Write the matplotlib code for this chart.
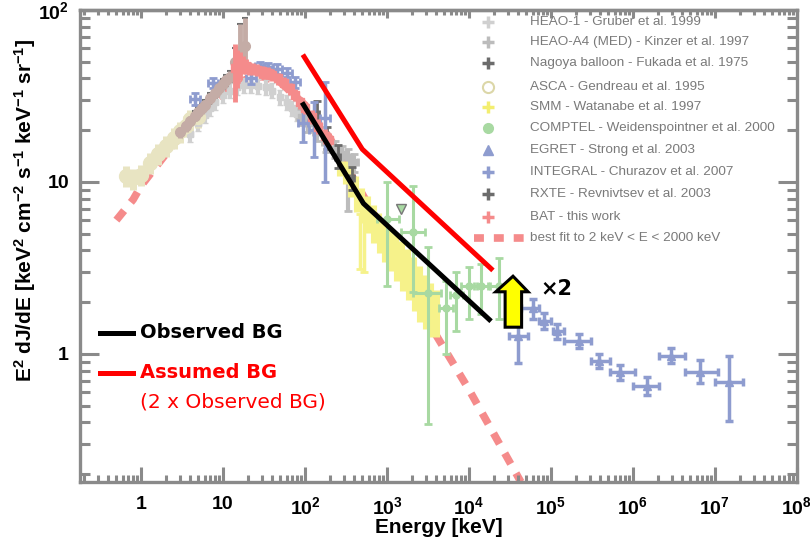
import numpy as np
import matplotlib
matplotlib.use("Agg")
import matplotlib.pyplot as plt
from matplotlib.patches import Polygon
from matplotlib.ticker import FixedLocator, FuncFormatter, LogLocator, NullFormatter

plt.rcParams['font.family'] = ['Liberation Sans', 'DejaVu Sans']
plt.rcParams['mathtext.fontset'] = 'custom'
plt.rcParams['mathtext.rm'] = 'Liberation Sans:bold'
plt.rcParams['mathtext.it'] = 'Liberation Sans:bold'
plt.rcParams['mathtext.bf'] = 'Liberation Sans:bold'

# ---- data ----
# ASCA
asca_x = [0.65, 0.8, 1.0, 1.3, 1.6, 2.0, 2.5, 3.0, 3.5, 4.0, 5.0]
asca_y = [10.8, 10.5, 11.0, 12.9, 14.5, 16.2, 18.0, 19.7, 21.2, 23.1, 24.0]

# RXTE
rxte_x = [3, 3.5, 4, 4.5, 5, 5.5, 6, 7, 8, 9, 10, 11, 12, 14, 16, 18.5]
rxte_y = [19.4, 21.1, 22.7, 24.2, 25.6, 26.9, 28.1, 30.6, 32.9, 35.1, 37.1, 39.0, 41.0, 50, 58, 62]
rxte_lo = [1.5, 1.5, 1.6, 1.7, 1.8, 1.9, 2.0, 2.1, 2.3, 2.5, 2.6, 2.7, 2.9, 8, 12, 15]
rxte_hi = [1.5, 1.5, 1.6, 1.7, 1.8, 1.9, 2.0, 2.1, 2.3, 2.5, 2.6, 2.7, 2.9, 10, 25, 28]

# HEAO-1 (Gruber)
heao1_x = [4, 5, 6, 7, 8, 10, 12, 15, 18, 22, 27, 33, 40, 50, 60, 70, 80]
heao1_y = [19, 22, 24.5, 27, 29, 32, 34, 35.5, 36.5, 36.5, 36, 35.5, 34, 31, 29, 27, 25]

# HEAO-A4 MED (Kinzer)
a4_x = [90, 110, 140, 180, 230, 280, 330, 400]
a4_y = [24, 22, 19.5, 17, 15.5, 14.5, 14, 13]
a4_lo = [2.5, 2.5, 2.2, 2.0, 1.8, 1.6, 7.2, 1.5]
a4_hi = [2.5, 2.5, 2.2, 2.0, 1.8, 1.6, 1.5, 1.5]

# Nagoya balloon
nag_x = [140, 185, 250, 370]
nag_y = [25, 18, 14, 10.5]
nag_lo = [4, 2.5, 2.0, 1.5]
nag_hi = [4.5, 3.0, 2.3, 1.8]

# INTEGRAL
int_x = [4.6, 7.5, 22, 28, 35, 45, 60, 75, 95, 130, 175]
int_y = [30.5, 37.5, 40, 47, 46.5, 45.5, 43, 38, 22, 20, 23.5]
int_lo = [2.5, 2.5, 3, 3, 3, 3, 2, 3, 5, 6, 13.5]
int_hi = [2.5, 2.5, 3, 3, 3, 3, 3, 3, 6, 9, 14.5]

# BAT
bat_x = [14, 15, 16, 17.5, 19, 21, 23, 26, 30, 35, 40, 47, 55, 65, 75, 87, 100, 120, 145, 175, 195]
bat_y = [46, 47, 48, 48, 47, 46, 45.5, 45, 44, 43, 42, 40, 37.5, 35, 32, 29, 27, 24, 21, 18.5, 17.5]
bat_f = [0.37, 0.25, 0.18, 0.12, 0.1, 0.09, 0.08, 0.08, 0.08, 0.08, 0.08, 0.08, 0.08,
         0.08, 0.08, 0.08, 0.08, 0.09, 0.1, 0.1, 0.1]

# SMM
smm_x = [280, 330, 390, 460, 540, 630, 740, 870, 1000, 1200, 1400, 1650, 1950, 2300, 2700, 3200, 3700]
smm_y = [12, 11, 9.5, 8, 7, 6.2, 5.5, 4.8, 4.4, 4.0, 3.6, 3.2, 2.85, 2.5, 2.2, 2.0, 1.8]
smm_f = [0.1, 0.12, 0.14, 0.16, 0.18, 0.19, 0.2, 0.2, 0.22, 0.24, 0.26, 0.27, 0.28,
         0.29, 0.3, 0.3, 0.3]
smm_tail_x = [470, 520]
smm_tail_y = [6.0, 5.5]
smm_tail_lo = [2.9, 2.5]

# COMPTEL
comp_x = [1000, 2100, 3200, 5200, 7000, 10000, 14000, 23000]
comp_y = [6.1, 5.1, 2.25, 1.85, 2.2, 2.5, 2.5, 2.5]
comp_lo = [2.5, 2.3, 0.39, 1.0, 1.36, 1.6, 1.7, 1.6]
comp_hi = [10, 9.5, 4.2, 2.65, 3.0, 3.2, 3.35, 3.6]
comp_xlo = [750, 1500, 2100, 4300, 5800, 8000, 11500, 18000]
comp_xhi = [1400, 2900, 4500, 6300, 8500, 12500, 17000, 28000]

# EGRET
eg_x = [4.0e4, 6.1e4, 8.3e4, 1.2e5, 2.2e5, 3.9e5, 6.9e5, 1.5e6, 2.9e6, 6.5e6, 1.5e7]
eg_y = [1.27, 1.85, 1.55, 1.36, 1.19, 0.91, 0.78, 0.65, 0.97, 0.79, 0.69]
eg_lo = [0.89, 1.6, 1.4, 1.22, 1.08, 0.83, 0.71, 0.58, 0.88, 0.68, 0.41]
eg_hi = [1.68, 2.1, 1.72, 1.5, 1.31, 1.0, 0.86, 0.73, 1.08, 0.92, 0.97]
eg_xlo = [3.1e4, 4.3e4, 7.2e4, 1.06e5, 1.46e5, 3.1e5, 5.2e5, 1.0e6, 2.1e6, 4.3e6, 1.0e7]
eg_xhi = [5.2e4, 7.2e4, 1.0e5, 1.46e5, 3.1e5, 5.2e5, 1.07e6, 2.1e6, 4.3e6, 1.1e7, 2.2e7]

# best fit (2 keV < E < 2000 keV)
fit_x = [0.5, 0.8, 1, 2, 3, 5, 10, 20, 30, 50, 100, 200, 500, 1000, 2000, 3700, 1e4, 4.3e4]
fit_y = [6.0, 7.9, 9.5, 14.5, 18.5, 25, 33, 40, 41, 38, 28, 18, 8.5, 4.8, 2.6, 1.36, 0.62, 0.18]

# observed / assumed background
obs_x = [92, 516, 1.86e4]
obs_y = [29, 7.5, 1.55]
asm_x = [94, 500, 1.96e4]
asm_y = [55, 15.5, 3.06]

legend_labels = ["HEAO-1 - Gruber et al. 1999",
                 "HEAO-A4 (MED) - Kinzer et al. 1997",
                 "Nagoya balloon - Fukada et al. 1975",
                 "ASCA - Gendreau et al. 1995",
                 "SMM - Watanabe et al. 1997",
                 "COMPTEL - Weidenspointner et al. 2000",
                 "EGRET - Strong et al. 2003",
                 "INTEGRAL - Churazov et al. 2007",
                 "RXTE - Revnivtsev et al. 2003",
                 "BAT - this work",
                 "best fit to 2 keV < E < 2000 keV"]

c_heao1 = '#d0d0d0'
c_a4 = '#bcbcbc'
c_nag = '#6c6c6c'
c_asca = '#e8e4c2'
c_smm = '#f6f28a'
c_comp = '#a8d9a2'
c_blue = '#8e9ccf'
c_rxte = '#c4aca6'
c_bat = '#f58b8b'

fig = plt.figure(figsize=(8.1, 5.46), dpi=100)
ax = fig.add_axes([0.0988, 0.1172, 0.885, 0.8645])
ax.set_xscale('log')
ax.set_yscale('log')
ax.set_xlim(0.18, 1e8)
ax.set_ylim(0.18, 100)


def frac(y, f):
    y = np.array(y)
    return y * np.array(f)


def xspan(x, f):
    x = np.array(x, dtype=float)
    return [x - x / (1 + f), x * f]


# fit curve underneath everything
ax.plot(fit_x, fit_y, color=c_bat, lw=5.5, dashes=(1.6, 1.4), zorder=1)

ax.errorbar(heao1_x, heao1_y, yerr=[frac(heao1_y, 0.1), frac(heao1_y, 0.1)],
            xerr=xspan(heao1_x, 0.08), fmt='s', ms=5, color=c_heao1, elinewidth=3,
            capsize=2, zorder=2)
ax.errorbar(a4_x, a4_y, yerr=[a4_lo, a4_hi], xerr=xspan(a4_x, 0.12), fmt='s', ms=5,
            color=c_a4, elinewidth=3, capsize=3, capthick=2, zorder=2)
ax.errorbar(asca_x, asca_y, yerr=[frac(asca_y, 0.14), frac(asca_y, 0.14)],
            xerr=xspan(asca_x, 0.1), fmt='o', ms=10, color=c_asca, elinewidth=5,
            zorder=2)
ax.errorbar(rxte_x, rxte_y, yerr=[rxte_lo, rxte_hi], fmt='none', ecolor='#707070',
            elinewidth=1.5, capsize=2, capthick=1.5, zorder=2)
ax.errorbar(rxte_x, rxte_y, yerr=[rxte_lo, rxte_hi], xerr=xspan(rxte_x, 0.06),
            fmt='o', ms=7, color=c_rxte, elinewidth=3.5, zorder=3)
ax.errorbar(nag_x, nag_y, yerr=[nag_lo, nag_hi], xerr=xspan(nag_x, 0.07), fmt='none',
            ecolor=c_nag, elinewidth=2, capsize=3, capthick=2, zorder=3)
ax.errorbar(smm_x, smm_y, yerr=[frac(smm_y, smm_f), frac(smm_y, smm_f)],
            xerr=xspan(smm_x, 0.1), fmt='s', ms=6, color=c_smm, elinewidth=8,
            zorder=2)
ax.errorbar(smm_tail_x, smm_tail_y, yerr=[smm_tail_lo, [0.5, 0.5]], fmt='none',
            ecolor=c_smm, elinewidth=2.5, capsize=3, capthick=2, zorder=2)
ax.errorbar(comp_x, comp_y,
            yerr=[np.array(comp_y) - np.array(comp_lo), np.array(comp_hi) - np.array(comp_y)],
            xerr=[np.array(comp_x) - np.array(comp_xlo), np.array(comp_xhi) - np.array(comp_x)],
            fmt='o', ms=5, color=c_comp, elinewidth=2.2, capsize=3, capthick=2, zorder=3)
ax.plot([1466], [7.0], marker='v', ms=7, color=c_comp, mec='#777777', zorder=3)
ax.errorbar(int_x, int_y, yerr=[int_lo, int_hi], xerr=xspan(int_x, 0.15), fmt='none',
            ecolor=c_blue, elinewidth=2.5, capsize=3, capthick=2, zorder=3)
ax.errorbar(bat_x, bat_y, yerr=[frac(bat_y, bat_f), frac(bat_y, bat_f)],
            xerr=xspan(bat_x, 0.05), fmt='s', ms=6, color=c_bat, elinewidth=3.5,
            zorder=4)
ax.errorbar(eg_x, eg_y,
            yerr=[np.array(eg_y) - np.array(eg_lo), np.array(eg_hi) - np.array(eg_y)],
            xerr=[np.array(eg_x) - np.array(eg_xlo), np.array(eg_xhi) - np.array(eg_x)],
            fmt='^', ms=6, color=c_blue, elinewidth=2.5, capsize=3, capthick=2.5, zorder=3)

# background lines
ax.plot(asm_x, asm_y, color='red', lw=3.6, zorder=6, solid_capstyle='butt')
ax.plot(obs_x, obs_y, color='black', lw=3.6, zorder=6, solid_capstyle='butt')

# x2 arrow
arrow = Polygon([(0.593, 0.328), (0.616, 0.328), (0.616, 0.403), (0.625, 0.403),
                 (0.604, 0.436), (0.580, 0.403), (0.593, 0.403)], closed=True,
                transform=ax.transAxes, facecolor='#ffff00', edgecolor='black', lw=2.2,
                zorder=7)
ax.add_patch(arrow)
ax.text(0.665, 0.409, '×2', transform=ax.transAxes, fontsize=15, fontweight='bold',
        family='DejaVu Sans', va='center', ha='center', zorder=7)

# right legend
leg_y = [0.975, 0.932, 0.888, 0.837, 0.794, 0.750, 0.703, 0.657, 0.610, 0.561, 0.517]
leg_styles = [dict(marker='+', color=c_heao1, mew=2.5, ms=9),
              dict(marker='+', color=c_a4, mew=2.5, ms=9),
              dict(marker='+', color=c_nag, mew=2.5, ms=9),
              dict(marker='o', mfc='none', mec='#dcd7a8', mew=1.5, ms=8),
              dict(marker='+', color='#f3ee70', mew=2.5, ms=9),
              dict(marker='o', color=c_comp, ms=7),
              dict(marker='^', color=c_blue, ms=7),
              dict(marker='+', color=c_blue, mew=2.5, ms=9),
              dict(marker='+', color=c_nag, mew=2.5, ms=9),
              dict(marker='+', color=c_bat, mew=2.5, ms=9)]
for yy, st in zip(leg_y[:-1], leg_styles):
    ax.plot([0.569], [yy], transform=ax.transAxes, linestyle='none', clip_on=False,
            zorder=8, **st)
ax.plot([0.5495, 0.6195], [leg_y[-1], leg_y[-1]], transform=ax.transAxes,
        color=c_bat, lw=5.5, dashes=(1.3, 1.3), zorder=8)
for yy, lab in zip(leg_y, legend_labels):
    ax.text(0.628, yy, lab, transform=ax.transAxes, fontsize=9.7, color='#7a7a7a',
            va='center', ha='left', zorder=8)

# left legend
ax.plot([0.028, 0.074], [0.316, 0.316], transform=ax.transAxes, color='black', lw=3.6)
ax.plot([0.028, 0.074], [0.231, 0.231], transform=ax.transAxes, color='red', lw=3.6)
ax.text(0.084, 0.316, 'Observed BG', transform=ax.transAxes, family='DejaVu Sans',
        fontsize=14, fontweight='bold', va='center', ha='left')
ax.text(0.084, 0.231, 'Assumed BG', transform=ax.transAxes, family='DejaVu Sans',
        fontsize=14, fontweight='bold', color='red', va='center', ha='left')
ax.text(0.084, 0.169, '(2 x Observed BG)', transform=ax.transAxes, family='DejaVu Sans',
        fontsize=14.5, color='red', va='center', ha='left')

# axes styling
spine_c = '#8a8a8a'
for s in ax.spines.values():
    s.set_color(spine_c)
    s.set_linewidth(2.4)


def tick_fmt(v, pos):
    if abs(v - 1) < 1e-9:
        return '1'
    if abs(v - 10) < 1e-9:
        return '10'
    return r'$10^{%d}$' % round(np.log10(v))


major_x = [10.0 ** k for k in range(0, 9)]
ax.xaxis.set_major_locator(FixedLocator(major_x))
ax.yaxis.set_major_locator(FixedLocator([1, 10, 100]))
ax.xaxis.set_major_formatter(FuncFormatter(tick_fmt))
ax.yaxis.set_major_formatter(FuncFormatter(tick_fmt))
ax.xaxis.set_minor_locator(LogLocator(base=10, subs=np.arange(2, 10), numticks=20))
ax.yaxis.set_minor_locator(LogLocator(base=10, subs=np.arange(2, 10), numticks=20))
ax.xaxis.set_minor_formatter(NullFormatter())
ax.yaxis.set_minor_formatter(NullFormatter())
ax.tick_params(axis='both', which='both', direction='in', color=spine_c, width=2.2,
               top=False, right=True, labelsize=14, labelcolor='black')
ax.tick_params(axis='x', which='major', length=11, pad=10)
ax.tick_params(axis='x', which='minor', length=5)
ax.tick_params(axis='y', which='major', length=14, pad=8)
ax.tick_params(axis='y', which='minor', length=7)
for lab in ax.get_xticklabels() + ax.get_yticklabels():
    lab.set_fontweight('bold')

# shorter ticks along the top edge
top = ax.secondary_xaxis('top')
top.xaxis.set_major_locator(FixedLocator(major_x))
top.xaxis.set_minor_locator(LogLocator(base=10, subs=np.arange(2, 10), numticks=20))
top.xaxis.set_major_formatter(NullFormatter())
top.xaxis.set_minor_formatter(NullFormatter())
top.tick_params(axis='x', which='both', direction='in', color=spine_c, width=2.2)
top.tick_params(axis='x', which='major', length=6)
top.tick_params(axis='x', which='minor', length=3.5)
top.spines['top'].set_color(spine_c)
top.spines['top'].set_linewidth(2.4)

ax.set_xlabel('Energy [keV]', fontsize=15, fontweight='bold', labelpad=0)
fig.text(25 / 810, 1 - 210 / 546,
         r'E$^2$ dJ/dE [keV$^2$ cm$^{-2}$ s$^{-1}$ keV$^{-1}$ sr$^{-1}$]',
         fontsize=15, fontweight='bold', rotation=90, ha='center', va='center')

fig.savefig('out.png', dpi=100)
